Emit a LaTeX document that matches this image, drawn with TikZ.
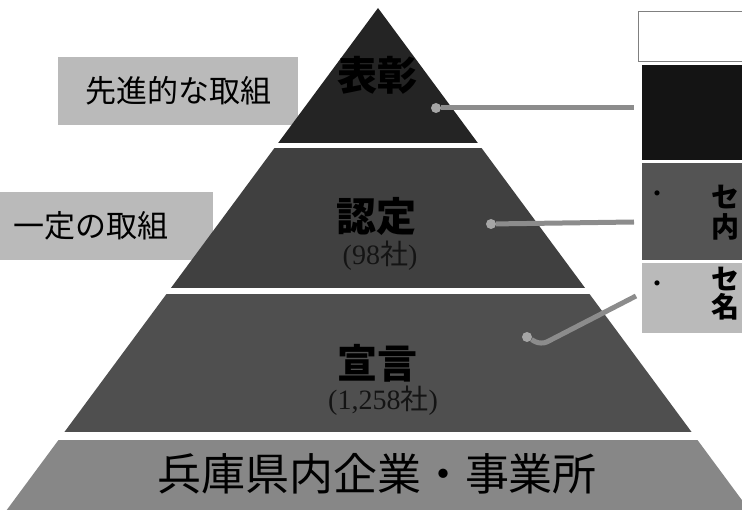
\documentclass[tikz,border=0pt]{standalone}
\usepackage{fontspec}
\setmainfont{Liberation Serif}
\newfontfamily\cjk{Noto Sans CJK JP}
\begin{document}
\begin{tikzpicture}[x=1pt,y=-1pt,
    tier/.style={font=\cjk\bfseries\fontsize{40}{44}\selectfont, text=black},
    cnt/.style={font=\fontsize{28}{30}\selectfont, text=black!92},
    lbl/.style={fill=black!27, font=\cjk\fontsize{31}{34}\selectfont, inner sep=0pt},
    conn/.style={draw=black!45, line width=5pt},
    dot/.style={circle, fill=black!35, inner sep=0pt, minimum size=10pt},
    side/.style={font=\cjk\bfseries\fontsize{28}{30}\selectfont, inner sep=0pt, anchor=west}]
  \useasboundingbox (0,0) rectangle (742,510);
  % labels on the left
  \node[lbl, minimum width=240, minimum height=68] (S) at (178,91) {先進的な取組};
  \node[lbl, minimum width=243, minimum height=68] (I) at (91,226) {一定の取組};
  % pyramid
  \begin{scope}
    \clip (378,8) -- (750,511) -- (6,511) -- cycle;
    \fill[black!86] (0,0) rectangle (760,143);
    \fill[black!75] (0,148) rectangle (760,288);
    \fill[black!69] (0,294) rectangle (760,432);
    \fill[black!47] (0,440) rectangle (760,520);
  \end{scope}
  \node[tier] (H) at (377,75) {表彰};
  \node[tier] (N) at (376,216) {認定};
  \node[cnt] (n) at (380,256) {(98{\cjk 社})};
  \node[tier] (D) at (377,363) {宣言};
  \node[cnt] (d) at (383,401) {(1,258{\cjk 社})};
  \node[font=\cjk\fontsize{44}{46}\selectfont] (K) at (377,474) {兵庫県内企業・事業所};
  % boxes on the right
  \node[draw=black!50, line width=1pt, minimum width=130, minimum height=50] (R0) at (703,37) {};
  \node[fill=black!92, minimum width=118, minimum height=95] (R1) at (701,112.5) {};
  \node[fill=black!67, minimum width=118, minimum height=97] (R2) at (701,211.5) {};
  \node[fill=black!27, minimum width=118, minimum height=70] (R3) at (701,298) {};
  \node[font=\cjk\fontsize{24}{24}\selectfont] (b2) at (657,197) {・};
  \node[side] (t2) at (711,197) {セ};
  \node[side] (u2) at (711,227) {内};
  \node[font=\cjk\fontsize{24}{24}\selectfont] (b3) at (657,287) {・};
  \node[side] (t3) at (711,279) {セ};
  \node[side] (u3) at (711,307) {名};
  % connectors
  \coordinate (e1) at (634,108);
  \coordinate (e2) at (634,222);
  \coordinate (h3) at (541,345);
  \coordinate (e3) at (636,296);
  \node[dot] (p1) at (436,108) {};
  \node[dot] (p2) at (491,224) {};
  \node[dot] (p3) at (527,337) {};
  \draw[conn] (p1) -- (e1);
  \draw[conn] (p2) -- (e2);
  \draw[conn, rounded corners=7pt] (p3) -- (h3) -- (e3);
\end{tikzpicture}
\end{document}
